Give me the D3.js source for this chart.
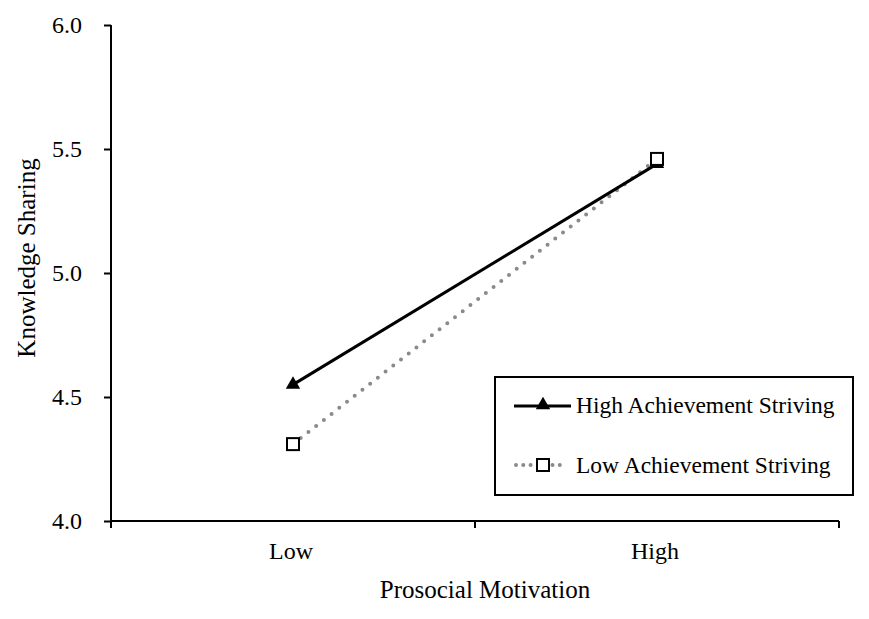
<!DOCTYPE html>
<html>
<head>
<meta charset="utf-8">
<script src="https://cdn.jsdelivr.net/npm/d3@7"></script>
<style>
  html, body { margin: 0; padding: 0; background: #fff; }
  svg { display: block; font-family: "Liberation Serif", "Times New Roman", serif; }
</style>
</head>
<body>
<svg id="chart" width="869" height="619"></svg>
<script>
const categories = ["Low", "High"];
const seriesNames = ["High Achievement Striving", "Low Achievement Striving"];
const highAchievement = [4.55, 5.44];
const lowAchievement = [4.31, 5.46];
const yTicks = [4.0, 4.5, 5.0, 5.5, 6.0];
const xTitle = "Prosocial Motivation";
const yTitle = "Knowledge Sharing";

(function () {
const svg = d3.select("#chart");
const pLeft = 111, pRight = 839, pTop = 25, pBottom = 521;

const x = d3.scaleBand().domain(categories).range([pLeft, pRight]).padding(0);
const y = d3.scaleLinear().domain([4, 6]).range([pBottom, pTop]);

// Y axis
const yAxis = svg.append("g")
  .attr("transform", `translate(${pLeft},0)`)
  .call(d3.axisLeft(y).tickValues(yTicks).tickFormat(d3.format(".1f")).tickSize(7).tickPadding(22));
yAxis.select(".domain").attr("d", `M0,${pTop}V${pBottom + 7}`).attr("stroke", "#000").attr("stroke-width", 2);
yAxis.selectAll(".tick line").attr("stroke", "#000").attr("stroke-width", 2);
yAxis.selectAll(".tick text").attr("font-size", 24).attr("fill", "#000").attr("font-family", "Liberation Serif, serif");

// X axis
const xg = svg.append("g");
xg.append("line").attr("x1", pLeft).attr("x2", pRight).attr("y1", pBottom).attr("y2", pBottom)
  .attr("stroke", "#000").attr("stroke-width", 2);
const boundaries = categories.map(c => x(c)).concat([x.range()[1]]);
xg.selectAll("line.tk").data(boundaries).join("line").attr("class", "tk")
  .attr("x1", d => d).attr("x2", d => d).attr("y1", pBottom).attr("y2", pBottom + 7)
  .attr("stroke", "#000").attr("stroke-width", 2);
xg.selectAll("text").data(categories).join("text")
  .attr("x", d => x(d) + x.bandwidth() / 2 - 2)
  .attr("y", 559)
  .attr("text-anchor", "middle")
  .attr("font-size", 24)
  .text(d => d);

// Titles
svg.append("text").attr("x", 485).attr("y", 598).attr("text-anchor", "middle")
  .attr("font-size", 25).text(xTitle);
svg.append("text").attr("transform", "translate(35,258) rotate(-90)").attr("text-anchor", "middle")
  .attr("font-size", 25).text(yTitle);

const cx = d => x(d) + x.bandwidth() / 2;
const line = d3.line().x(d => cx(d.c)).y(d => y(d.v));

const lowData = categories.map((c, i) => ({ c, v: lowAchievement[i] }));
const highData = categories.map((c, i) => ({ c, v: highAchievement[i] }));

// Low achievement striving (dotted)
svg.append("path").datum(lowData).attr("d", line)
  .attr("fill", "none").attr("stroke", "#8a8a8a").attr("stroke-width", 4)
  .attr("stroke-linecap", "round").attr("stroke-dasharray", "0 9.8");

// High achievement striving (solid)
svg.append("path").datum(highData).attr("d", line)
  .attr("fill", "none").attr("stroke", "#000").attr("stroke-width", 3);

const tri = d3.symbol().type(d3.symbolTriangle).size(90);
svg.selectAll("path.tri").data(highData).join("path").attr("class", "tri")
  .attr("d", tri).attr("transform", d => `translate(${cx(d.c)},${y(d.v)})`)
  .attr("fill", "#000");

svg.selectAll("rect.sq").data(lowData).join("rect").attr("class", "sq")
  .attr("x", d => cx(d.c) - 6).attr("y", d => y(d.v) - 6)
  .attr("width", 12).attr("height", 12)
  .attr("fill", "#fff").attr("stroke", "#000").attr("stroke-width", 2);

// Legend
const lg = svg.append("g");
lg.append("rect").attr("x", 495).attr("y", 377).attr("width", 358).attr("height", 118)
  .attr("fill", "#fff").attr("stroke", "#000").attr("stroke-width", 2);
lg.append("line").attr("x1", 514).attr("x2", 571).attr("y1", 406).attr("y2", 406)
  .attr("stroke", "#000").attr("stroke-width", 3);
lg.append("path").attr("d", tri).attr("transform", "translate(543,405)").attr("fill", "#000");
lg.append("line").attr("x1", 516).attr("x2", 564).attr("y1", 465).attr("y2", 465)
  .attr("stroke", "#8a8a8a").attr("stroke-width", 4).attr("stroke-linecap", "round")
  .attr("stroke-dasharray", "0 7.3");
lg.append("rect").attr("x", 537).attr("y", 459).attr("width", 12).attr("height", 12)
  .attr("fill", "#fff").attr("stroke", "#000").attr("stroke-width", 2);
lg.selectAll("text").data(seriesNames).join("text")
  .attr("x", 576).attr("y", (d, i) => 413 + i * 60)
  .attr("font-size", 23.5).text(d => d);
})();
</script>
</body>
</html>
